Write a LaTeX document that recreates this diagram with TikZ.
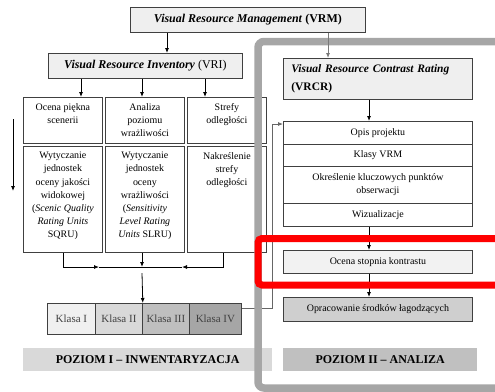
\documentclass[tikz,border=0pt]{standalone}
\usepackage{fontspec}
\setmainfont{Liberation Serif}
\usetikzlibrary{arrows.meta}
\definecolor{boxline}{HTML}{404040}
\definecolor{fillA}{HTML}{EFEFEF}
\definecolor{fillOc}{HTML}{F2F2F2}
\definecolor{fillOp}{HTML}{CFCFCF}
\definecolor{kA}{HTML}{F0F0F0}
\definecolor{kB}{HTML}{D9D9D9}
\definecolor{kC}{HTML}{BFBFBF}
\definecolor{kD}{HTML}{A6A6A6}
\definecolor{bandA}{HTML}{D9D9D9}
\definecolor{bandB}{HTML}{C0C0C0}
\definecolor{frameGray}{HTML}{A6A6A6}
\definecolor{frameRed}{HTML}{FF0000}
\newcommand\mytxt{\fontsize{10}{13.2}\selectfont}
\newcommand\myhead{\fontsize{12}{14}\selectfont}
\begin{document}
\begin{tikzpicture}[x=1bp,y=-1bp,
  box/.style={draw=boxline, line width=0.8bp, inner sep=0pt, anchor=north west, font=\mytxt, align=center},
  coltext/.style={anchor=north, inner sep=0pt, align=center, font=\mytxt},
  band/.style={inner sep=0pt, anchor=north west, font=\myhead\bfseries},
  arr/.style={-{Latex[length=5bp,width=4bp]}, line width=0.8bp},
  ln/.style={line width=0.8bp}]
\useasboundingbox (0,0) rectangle (495,391);
\clip (0,0) rectangle (495,391);

% top boxes
\node[box, fill=fillA, minimum width=235bp, minimum height=25bp, font=\myhead] (vrm) at (130,7)
  {\textbf{\textit{Visual Resource Management}} \textbf{(VRM)}};
\node[box, fill=fillA, minimum width=194bp, minimum height=25bp, font=\myhead] (vri) at (48,53)
  {\textbf{\textit{Visual Resource Inventory}} (VRI)};

% columns
\node[box, minimum width=79bp, minimum height=46bp] (c1a) at (23,97) {};
\node[box, minimum width=79bp, minimum height=46bp] (c2a) at (105,97) {};
\node[box, minimum width=79bp, minimum height=46bp] (c3a) at (187,97) {};
\node[box, minimum width=79bp, minimum height=106bp] (c1b) at (23,146) {};
\node[box, minimum width=79bp, minimum height=106bp] (c2b) at (105,146) {};
\node[box, minimum width=79bp, minimum height=106bp] (c3b) at (187,146) {};

\node[coltext] (t1a) at ([yshift=-6bp]c1a.north) {Ocena piękna\\scenerii};
\node[coltext] (t2a) at ([yshift=-6bp]c2a.north) {Analiza\\poziomu\\wrażliwości};
\node[coltext] (t3a) at ([yshift=-6bp]c3a.north) {Strefy\\odległości};
\node[coltext] (t1b) at ([yshift=-6bp]c1b.north) {Wytyczanie\\jednostek\\oceny jakości\\widokowej\\(\textit{Scenic Quality}\\\textit{Rating Units}\\SQRU)};
\node[coltext] (t2b) at ([yshift=-6bp]c2b.north) {Wytyczanie\\jednostek\\oceny\\wrażliwości\\(\textit{Sensitivity}\\\textit{Level Rating}\\\textit{Units} SLRU)};
\node[coltext] (t3b) at ([yshift=-6bp]c3b.north) {Nakreślenie\\strefy\\odległości};

% classes
\tikzset{kbox/.style={box, minimum height=31bp, text=boxline, font=\fontsize{11}{13}\selectfont}}
\node[kbox, fill=kA, minimum width=48bp] (k1) at (47,303) {Klasa I};
\node[kbox, fill=kB, minimum width=47bp] (k2) at (95,303) {Klasa II};
\node[kbox, fill=kC, minimum width=47bp] (k3) at (142,303) {Klasa III};
\node[kbox, fill=kD, minimum width=52bp] (k4) at (189,303) {Klasa IV};

% right side
\node[box, fill=fillA, minimum height=41bp, text width=173bp, inner xsep=8bp, align=left,
  font=\fontsize{11.5}{18}\selectfont\bfseries] (vrcr) at (283,58)
  {\textit{Visual Resource Contrast Rating}\\(VRCR)};
\node[box, minimum width=189bp, minimum height=23bp] (opis) at (283,121) {Opis projektu};
\node[box, minimum width=189bp, minimum height=22bp] (klasy) at (283,144) {Klasy VRM};
\node[box, minimum width=189bp, minimum height=37bp] (okr) at (283,166) {Określenie kluczowych punktów\\obserwacji};
\node[box, minimum width=189bp, minimum height=23bp] (wiz) at (283,203) {Wizualizacje};
\node[box, fill=fillOc, minimum width=189bp, minimum height=23bp] (ocena) at (283,250) {Ocena stopnia kontrastu};
\node[box, fill=fillOp, minimum width=189bp, minimum height=24bp] (oprac) at (283,297) {Opracowanie środków łagodzących};

% bands
\node[band, fill=bandA, minimum width=249bp, minimum height=23bp] (p1) at (23,348) {POZIOM I – INWENTARYZACJA};
\node[band, fill=bandB, minimum width=194bp, minimum height=23bp] (p2) at (283,348) {POZIOM II – ANALIZA};

% connectors left
\draw[arr] (vrm.south -| 167,0) -- (vri.north -| 167,0);
\draw[arr] (vri.south -| 81,0) -- (c1a.north -| 81,0);
\draw[arr] (vri.south -| 142,0) -- (c2a.north -| 142,0);
\draw[arr] (vri.south -| 205,0) -- (c3a.north -| 205,0);

\coordinate (la1) at (13,119);
\coordinate (la2) at (13,191);
\draw[arr] (la1) -- (la2);

\coordinate (ml) at (99,267);
\coordinate (mr) at (182,267);
\coordinate (mc) at (142,267);
\coordinate (mc2) at (142,273);
\draw[arr] (c1b.south -| 63,0) |- (ml);
\draw[ln] (ml) -- (mr);
\draw[arr] (c3b.south -| 223,0) |- (mr);
\draw[arr] (c2b.south -| mc) -- (mc);
\draw[arr] (mc2) -- (k2.north east);

% Klasa IV to Opis
\coordinate (kc) at (272,308);
\coordinate (oc) at (272,124);
\draw[arr, draw=boxline!80] (k4.east |- kc) -- (kc) -- (oc) -- (opis.west |- oc);

% connectors right
\draw[arr] (vrcr.south -| 369,0) -- (opis.north -| 369,0);
\draw[arr] (wiz.south -| 369,0) -- (ocena.north -| 369,0);
\draw[arr] (ocena.south -| 369,0) -- (oprac.north -| 369,0);

% frames
\draw[line width=7.5bp, frameGray, rounded corners=6bp] (505,41.5) -- (258,41.5) -- (258,388) -- (505,388);
\draw[arr, draw=boxline!70] (vrm.south -| 328,0) -- (vrcr.north -| 328,0);
\draw[line width=7bp, frameRed, rounded corners=4bp] (505,238.5) -- (258,238.5) -- (258,285) -- (505,285);
\end{tikzpicture}
\end{document}
